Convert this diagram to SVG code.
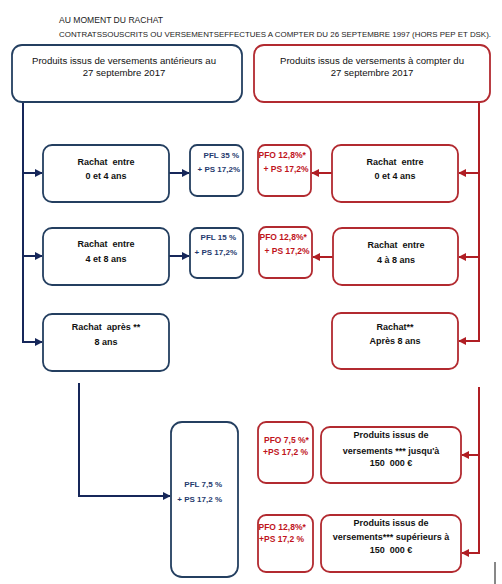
<svg xmlns="http://www.w3.org/2000/svg" width="502" height="584" viewBox="0 0 502 584">
<style>
text{font-family:"Liberation Sans",Arial,sans-serif;}
.hd{font-size:8.5px;fill:#222;}
.hd2{font-size:7.2px;fill:#222;}
.t{font-size:9.6px;fill:#111;text-anchor:middle;}
.b{font-size:9px;font-weight:bold;fill:#111;text-anchor:middle;}
.pb{font-size:8px;font-weight:bold;fill:#1f3a6e;}
.pr{font-size:8.5px;font-weight:bold;fill:#c0141c;}
.bx{fill:#fff;stroke:#243f60;stroke-width:1.8;}
.rx{fill:#fff;stroke:#b22a30;stroke-width:1.8;}
.cb{fill:none;stroke:#16275a;stroke-width:2;}
.cr{fill:none;stroke:#b01e24;stroke-width:2;}
</style>
<defs>
<marker id="ab" viewBox="0 0 10 10" refX="9" refY="5" markerWidth="4" markerHeight="4" orient="auto"><path d="M0,0L10,5L0,10z" fill="#16275a"/></marker>
<marker id="ar" viewBox="0 0 10 10" refX="9" refY="5" markerWidth="4" markerHeight="4" orient="auto"><path d="M0,0L10,5L0,10z" fill="#b01e24"/></marker>
</defs>
<text class="hd" x="59" y="23" textLength="104" lengthAdjust="spacingAndGlyphs">AU MOMENT DU RACHAT</text>
<text class="hd2" x="59" y="37" textLength="432" lengthAdjust="spacingAndGlyphs">CONTRATSSOUSCRITS OU VERSEMENTSEFFECTUES A COMPTER DU 26 SEPTEMBRE 1997 (HORS PEP ET DSK).</text>

<g id="connectors">
<path class="cb" d="M23,102V342H42" marker-end="url(#ab)"/>
<path class="cb" d="M23,173H42" marker-end="url(#ab)"/>
<path class="cb" d="M23,256H42" marker-end="url(#ab)"/>
<path class="cb" d="M169,173H189" marker-end="url(#ab)"/>
<path class="cb" d="M169,256H189" marker-end="url(#ab)"/>
<path class="cb" d="M79,383V496H170" marker-end="url(#ab)"/>
<path class="cr" d="M479,102V341H459" marker-end="url(#ar)"/>
<path class="cr" d="M479,173H459" marker-end="url(#ar)"/>
<path class="cr" d="M479,257H459" marker-end="url(#ar)"/>
<path class="cr" d="M332,173H312" marker-end="url(#ar)"/>
<path class="cr" d="M333,257H313" marker-end="url(#ar)"/>
<path class="cr" d="M479,387V553H462" marker-end="url(#ar)"/>
<path class="cr" d="M479,455H462" marker-end="url(#ar)"/>
<path d="M495,562V584" stroke="#111" stroke-width="1"/>
</g>

<g id="top-left"><rect class="bx" x="12" y="45" width="230" height="57" rx="10"/>
<text class="t" x="124" y="64">Produits issus de versements antérieurs au</text>
<text class="t" x="124" y="76">27 septembre 2017</text></g>
<g id="top-right"><rect class="rx" x="254" y="45" width="236" height="57" rx="10"/>
<text class="t" x="372" y="64">Produits issus de versements à compter du</text>
<text class="t" x="372" y="76">27 septembre 2017</text></g>

<g id="b1"><rect class="bx" x="43" y="145" width="126" height="57" rx="9"/>
<text class="b" x="106" y="165">Rachat&#160; entre</text><text class="b" x="106" y="179">0 et 4 ans</text></g>
<g id="p1"><rect class="bx" x="190" y="145" width="53" height="51" rx="7"/>
<text class="pb" x="239" y="158" text-anchor="end">PFL 35 %</text><text class="pb" x="240" y="172" text-anchor="end">+ PS 17,2%</text></g>

<g id="b2"><rect class="bx" x="43" y="228" width="126" height="57" rx="9"/>
<text class="b" x="106" y="247">Rachat&#160; entre</text><text class="b" x="106" y="262">4 et 8 ans</text></g>
<g id="p2"><rect class="bx" x="190" y="228" width="53" height="50" rx="7"/>
<text class="pb" x="236" y="240" text-anchor="end">PFL 15 %</text><text class="pb" x="237" y="255" text-anchor="end">+ PS 17,2%</text></g>

<g id="b3"><rect class="bx" x="43" y="314" width="126" height="57" rx="9"/>
<text class="b" x="106" y="330">Rachat&#160; après **</text><text class="b" x="106" y="345">8 ans</text></g>
<g id="p3"><rect class="bx" x="171" y="422" width="67" height="155" rx="11"/>
<text class="pb" x="222" y="487" text-anchor="end">PFL 7,5 %</text><text class="pb" x="222" y="502" text-anchor="end">+ PS 17,2 %</text></g>

<g id="r1"><rect class="rx" x="332" y="145" width="126" height="57" rx="9"/>
<text class="b" x="395" y="165">Rachat&#160; entre</text><text class="b" x="395" y="179">0 et 4 ans</text></g>
<g id="q1"><rect class="rx" x="258" y="145" width="53" height="51" rx="7"/>
<text class="pr" x="258.5" y="158">PFO 12,8%*</text><text class="pr" x="286" y="172" text-anchor="middle">+ PS 17,2%</text></g>

<g id="r2"><rect class="rx" x="333" y="228" width="125" height="57" rx="9"/>
<text class="b" x="396" y="248">Rachat&#160; entre</text><text class="b" x="396" y="263">4 à 8 ans</text></g>
<g id="q2"><rect class="rx" x="259" y="227" width="53" height="51" rx="7"/>
<text class="pr" x="259.5" y="240">PFO 12,8%*</text><text class="pr" x="287" y="254" text-anchor="middle">+ PS 17,2%</text></g>

<g id="r3"><rect class="rx" x="332" y="313" width="126" height="56" rx="9"/>
<text class="b" x="395" y="330">Rachat**</text><text class="b" x="395" y="344">Après 8 ans</text></g>

<g id="r4"><rect class="rx" x="321" y="427" width="140" height="56" rx="9"/>
<text class="b" x="391" y="438">Produits issus de</text><text class="b" x="391" y="454">versements *** jusqu'à</text><text class="b" x="391" y="466">150&#160; 000 €</text></g>
<g id="q4"><rect class="rx" x="258" y="422" width="55" height="61" rx="8"/>
<text class="pr" x="264" y="443">PFO 7,5 %*</text><text class="pr" x="263" y="455">+PS 17,2 %</text></g>

<g id="r5"><rect class="rx" x="321" y="515" width="140" height="57" rx="9"/>
<text class="b" x="391" y="526">Produits issus de</text><text class="b" x="391" y="540">versements*** supérieurs à</text><text class="b" x="391" y="553">150&#160; 000 €</text></g>
<g id="q5"><rect class="rx" x="258" y="515" width="55" height="57" rx="8"/>
<text class="pr" x="258.5" y="530">PFO 12,8%*</text><text class="pr" x="259" y="542">+PS 17,2 %</text></g>
</svg>
